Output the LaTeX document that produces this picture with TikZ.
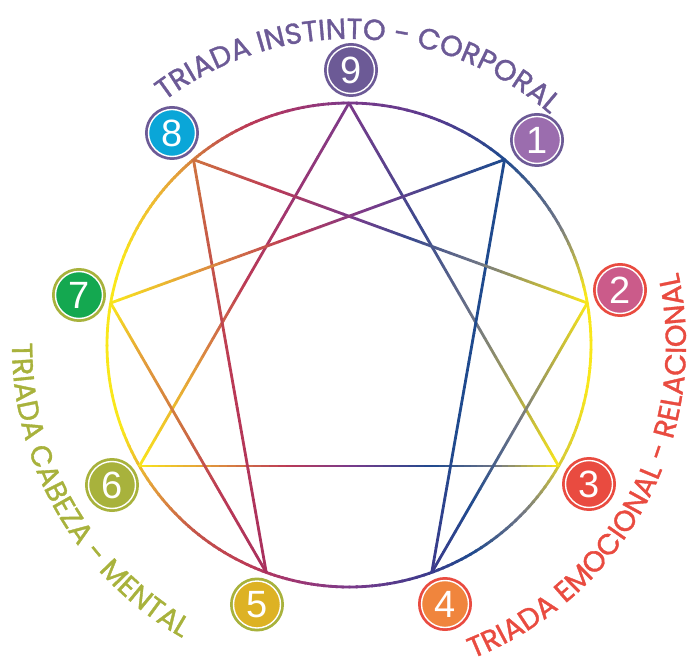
\documentclass[tikz,border=0pt]{standalone}
\usepackage{fontspec}
\usetikzlibrary{calc,decorations.text}
\newfontfamily\numfont{Liberation Sans}
\newfontfamily\labfont{Poppins}[FakeBold=1.2]

\definecolor{cPur}{HTML}{7B3A8A}
\definecolor{cVio}{HTML}{5A3A8E}
\definecolor{cBlv}{HTML}{3A4A8E}
\definecolor{cBlu}{HTML}{1F4A8E}
\definecolor{cInd}{HTML}{3D3A8C}
\definecolor{cGry}{HTML}{6E7486}
\definecolor{cOli}{HTML}{BDB440}
\definecolor{cOl3}{HTML}{D6CA36}
\definecolor{cYel}{HTML}{F9E71B}
\definecolor{cGld}{HTML}{F0C030}
\definecolor{cOra}{HTML}{E4A03A}
\definecolor{cBrn}{HTML}{CF7440}
\definecolor{cRst}{HTML}{C45448}
\definecolor{cRed}{HTML}{BC3A55}
\definecolor{cMag}{HTML}{A2356E}
\definecolor{cMr}{HTML}{A8305E}

\definecolor{tPur}{HTML}{6C5A96}
\definecolor{tRed}{HTML}{E94B40}
\definecolor{tOli}{HTML}{A8B23C}
\definecolor{fLav}{HTML}{9B6DAE}
\definecolor{fPnk}{HTML}{CB5B8A}
\definecolor{fOra}{HTML}{F0853D}
\definecolor{fGld}{HTML}{DDB224}
\definecolor{fGrn}{HTML}{14A850}
\definecolor{fCya}{HTML}{0AA6D8}

\def\bigR{242}
\def\gnone{none}

% straight gradient piece: A, B, t0, t1, c0, c1
\newcommand\gsegm[6]{%
  \foreach \k in {1,...,10}{%
    \pgfmathsetmacro\ta{#3+(#4-#3)*(\k-1)/10}%
    \pgfmathsetmacro\tb{#3+(#4-#3)*\k/10}%
    \pgfmathtruncatemacro\pc{10*\k-5}%
    \draw[gline,color=#6!\pc!#5] ($(#1)!\ta!(#2)$) -- ($(#1)!\tb!(#2)$);%
  }}
% arc gradient piece: a0, a1, c0, c1 (clockwise)
\newcommand\garcseg[4]{%
  \foreach \k in {1,...,10}{%
    \pgfmathsetmacro\aa{#1+(#2-#1)*(\k-1)/10+0.3}%
    \pgfmathsetmacro\ab{#1+(#2-#1)*\k/10}%
    \pgfmathtruncatemacro\pc{10*\k-5}%
    \draw[gline,color=#4!\pc!#3] (\aa:\bigR) arc[start angle=\aa, end angle=\ab, radius=\bigR];%
  }}
\newcommand\gline[3]{%
  \gdef\gpt{none}%
  \foreach \st/\sc in {#3}{%
    \ifx\gpt\gnone\else
      \edef\tmp{\noexpand\gsegm{#1}{#2}{\gpt}{\st}{\gpc}{\sc}}\tmp
    \fi
    \xdef\gpt{\st}\xdef\gpc{\sc}%
  }}
\newcommand\gcirc[1]{%
  \gdef\gpt{none}%
  \foreach \st/\sc in {#1}{%
    \ifx\gpt\gnone\else
      \edef\tmp{\noexpand\garcseg{\gpt}{\st}{\gpc}{\sc}}\tmp
    \fi
    \xdef\gpt{\st}\xdef\gpc{\sc}%
  }}
% number badge: name, position, ring colour, fill colour, digit
\newcommand\badge[5]{%
  \node[badgeout, fill=#3] (n#1) at (#2) {};
  \node[badgein, fill=#4] (n#1i) at (n#1) {#5};
}

\begin{document}
\begin{tikzpicture}[x=1pt,y=1pt,
  gline/.style={line width=2.8pt, shorten >=-0.4pt},
  badgeout/.style={circle, minimum size=54pt, inner sep=0pt},
  badgein/.style={circle, draw=white, line width=1.4pt, minimum size=47pt,
    inner sep=0pt, text=white, font=\numfont\fontsize{38}{38}\selectfont}]
\useasboundingbox (-349,-318) rectangle (343,345);

\coordinate (p9) at (90:\bigR);
\coordinate (p1) at (50:\bigR);
\coordinate (p2) at (10:\bigR);
\coordinate (p3) at (-30:\bigR);
\coordinate (p4) at (-70:\bigR);
\coordinate (p5) at (-110:\bigR);
\coordinate (p6) at (-150:\bigR);
\coordinate (p7) at (170:\bigR);
\coordinate (p8) at (130:\bigR);

% outer circle
\gcirc{90/cPur,70/cVio,50/cBlu,30/cGry,12/cYel,-10/cYel,-30/cOl3,-45/cGry,-60/cBlu,-72/cInd,-90/cPur,-105/cMag,-115/cRed,-130/cRst,-145/cOra,-160/cYel,-200/cYel,-215/cGld,-225/cOra,-232/cBrn,-245/cRed,-258/cMag,-270/cPur}

% triangle
\gline{p9}{p3}{0/cPur,0.35/cBlv,0.6/cGry,0.85/cOli,1/cYel}
\gline{p9}{p6}{0/cPur,0.3/cMag,0.5/cRed,0.75/cOra,1/cYel}
\gline{p6}{p3}{0/cYel,0.15/cOra,0.35/cRed,0.5/cPur,0.7/cBlu,0.85/cGry,1/cYel}
% hexad
\gline{p1}{p4}{0/cBlu,0.7/cBlu,1/cInd}
\gline{p4}{p2}{0/cInd,0.25/cBlu,0.55/cGry,0.8/cOli,1/cYel}
\gline{p2}{p8}{0/cYel,0.12/cOli,0.28/cGry,0.45/cBlv,0.6/cPur,0.8/cRed,1/cBrn}
\gline{p8}{p5}{0/cBrn,0.25/cRst,0.5/cRed,1/cMr}
\gline{p5}{p7}{0/cMr,0.3/cRed,0.55/cBrn,0.8/cOra,1/cYel}
\gline{p7}{p1}{0/cYel,0.2/cOra,0.45/cRed,0.65/cPur,0.85/cBlv,1/cBlu}

% badges
\badge{9}{2,275}{tPur}{tPur}{9}
\badge{1}{188,205}{tPur}{fLav}{1}
\badge{2}{271,55}{tRed}{fPnk}{2}
\badge{3}{240,-139}{tRed}{tRed}{3}
\badge{4}{96,-259}{tRed}{fOra}{4}
\badge{5}{-92,-259.5}{tOli}{fGld}{5}
\badge{6}{-237,-140}{tOli}{tOli}{6}
\badge{7}{-270,50}{tOli}{fGrn}{7}
\badge{8}{-177,212}{tPur}{fCya}{8}

% triad labels
\path[decorate, decoration={text along path, text align=center, text color=tPur,
  text={|\labfont\fontsize{29}{29}\selectfont|TRIADA INSTINTO - CORPORAL}}]
  (168:306) arc[start angle=168, end angle=8, radius=306];
\path[decorate, decoration={text along path, text align=center, text color=tRed,
  text={|\labfont\fontsize{29}{29}\selectfont|TRIADA EMOCIONAL - RELACIONAL}}]
  (-108:337) arc[start angle=-108, end angle=52, radius=337];
\path[decorate, decoration={text along path, text align=center, text color=tOli,
  text={|\labfont\fontsize{29}{29}\selectfont|TRIADA CABEZA - MENTAL}}]
  (130:337) arc[start angle=130, end angle=290, radius=337];
\end{tikzpicture}
\end{document}
